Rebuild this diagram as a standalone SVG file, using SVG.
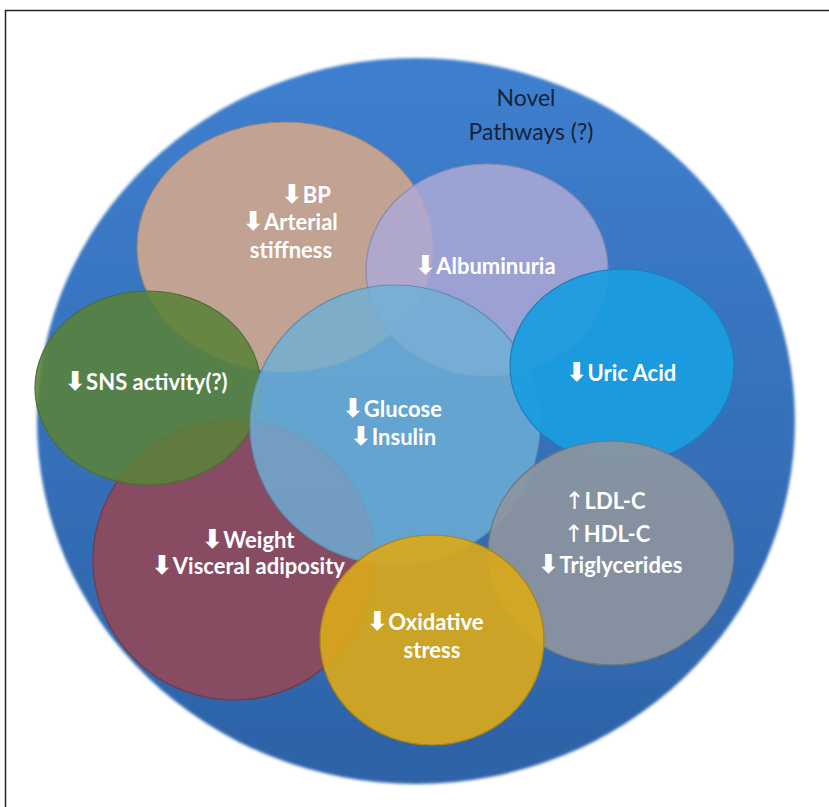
<svg xmlns="http://www.w3.org/2000/svg" width="829" height="807" viewBox="0 0 829 807">
<defs>
<linearGradient id="gBig" x1="0" y1="0" x2="0" y2="1">
<stop offset="0" stop-color="#3e7fcf"/>
<stop offset="1" stop-color="#2d62a6"/>
</linearGradient>
<filter id="soft" x="-5%" y="-5%" width="110%" height="110%"><feGaussianBlur stdDeviation="1.6"/></filter>
<style>
.lbl{font-family:Lato,"Open Sans","Liberation Sans",sans-serif;font-weight:bold;font-size:22px;fill:#ffffff;text-anchor:middle}
.arr{font-family:"DejaVu Sans",sans-serif;font-weight:bold;font-size:26px}
.up{font-family:"DejaVu Sans",sans-serif;font-weight:normal;font-size:24px}
.nov{font-family:Lato,"Liberation Sans",sans-serif;font-size:23px;fill:#16223a;text-anchor:middle}
.c{stroke-width:1.2}
</style>
</defs>
<rect x="0" y="0" width="829" height="807" fill="#ffffff"/>
<path d="M5.5,807 V10.5 H829" fill="none" stroke="#222" stroke-width="1.5"/>
<g id="outer">
<ellipse cx="416" cy="421" rx="379" ry="363" fill="url(#gBig)" filter="url(#soft)"/>
<text class="nov" x="526" y="106">Novel</text>
<text class="nov" x="531" y="140" font-size="25">Pathways (?)</text>
</g>
<g id="bp">
<ellipse class="c" cx="285" cy="247" rx="148" ry="125" fill="#c9a48f" fill-opacity="0.95" stroke="#9b8677"/>
</g>
<g id="weight">
<ellipse class="c" cx="234" cy="560" rx="141" ry="140" fill="#8c4a5e" fill-opacity="0.95" stroke="#6f3a4b"/>
</g>
<g id="sns">
<ellipse class="c" cx="148" cy="388" rx="113" ry="97" fill="#5a8239" fill-opacity="0.88" stroke="#4c6d35"/>
</g>
<g id="albuminuria">
<ellipse class="c" cx="487" cy="270" rx="121" ry="106" fill="#ada9d6" fill-opacity="0.85" stroke="#8b89b0"/>
</g>
<g id="glucose">
<ellipse class="c" cx="395" cy="425" rx="145" ry="140" fill="#6fb0d6" fill-opacity="0.82" stroke="#5a8fb0"/>
</g>
<g id="uric">
<ellipse class="c" cx="622" cy="366" rx="112" ry="97" fill="#1a9de0" fill-opacity="0.93" stroke="#1b7fb5"/>
</g>
<g id="lipids">
<ellipse class="c" cx="611" cy="553" rx="123" ry="112" fill="#8c959f" fill-opacity="0.92" stroke="#6f7780"/>
</g>
<g id="oxidative">
<ellipse class="c" cx="432" cy="640" rx="112" ry="105" fill="#dcaa18" fill-opacity="0.9" stroke="#a7841a"/>
</g>
<g id="labels">
<text class="lbl" x="306" y="203"><tspan class="arr">⬇</tspan>BP</text>
<text class="lbl" x="290" y="230"><tspan class="arr">⬇</tspan>Arterial</text>
<text class="lbl" x="291" y="258">stiffness</text>
<text class="lbl" x="485" y="274"><tspan class="arr">⬇</tspan>Albuminuria</text>
<text class="lbl" x="146" y="390"><tspan class="arr">⬇</tspan>SNS activity(?)</text>
<text class="lbl" x="621" y="381"><tspan class="arr">⬇</tspan>Uric Acid</text>
<text class="lbl" x="392" y="417"><tspan class="arr">⬇</tspan>Glucose</text>
<text class="lbl" x="393" y="445"><tspan class="arr">⬇</tspan>Insulin</text>
<text class="lbl" x="605" y="509"><tspan class="up">↑</tspan>LDL-C</text>
<text class="lbl" x="607" y="542"><tspan class="up">↑</tspan>HDL-C</text>
<text class="lbl" x="610" y="573"><tspan class="arr">⬇</tspan>Triglycerides</text>
<text class="lbl" x="248" y="548"><tspan class="arr">⬇</tspan>Weight</text>
<text class="lbl" x="248" y="574"><tspan class="arr">⬇</tspan>Visceral adiposity</text>
<text class="lbl" x="425" y="630"><tspan class="arr">⬇</tspan>Oxidative</text>
<text class="lbl" x="432" y="658">stress</text>
</g>
</svg>
